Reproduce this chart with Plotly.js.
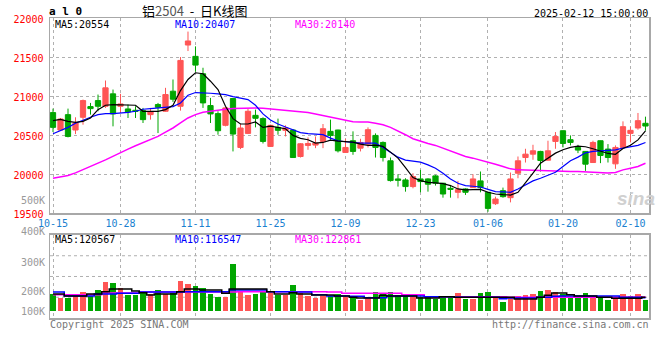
<!DOCTYPE html>
<html><head><meta charset="utf-8">
<script src="https://cdn.plot.ly/plotly-3.0.1.min.js"></script>
<style>html,body{margin:0;padding:0;background:#fff}#chart{width:660px;height:360px}</style>
</head><body><div id="chart"></div>
<script>
const dates = ['10-15','10-16','10-17','10-18','10-21','10-22','10-23','10-24','10-25','10-28','10-29','10-30','10-31',
 '11-01','11-04','11-05','11-06','11-07','11-08','11-11','11-12','11-13','11-14','11-15','11-18','11-19','11-20','11-21','11-22','11-25','11-26','11-27','11-28','11-29',
 '12-02','12-03','12-04','12-05','12-06','12-09','12-10','12-11','12-12','12-13','12-16','12-17','12-18','12-19','12-20','12-23','12-24','12-25','12-26','12-27','12-30','12-31',
 '01-02','01-03','01-06','01-07','01-08','01-09','01-10','01-13','01-14','01-15','01-16','01-17','01-20','01-21','01-22','01-23','01-24','01-27',
 '02-05','02-06','02-07','02-10','02-11','02-12'];
const open  = [20789,20566,20763,20566,20729,20866,20943,20870,21029,20870,20836,20819,20814,20763,20892,20806,21063,20870,21654,21509,
               21286,20879,20776,20626,20969,20343,20523,20754,20712,20356,20600,20562,20566,20227,20369,20373,20420,20549,20566,20279,
               20429,20334,20386,20497,20407,20172,19940,19927,19842,19940,19940,19979,19885,19820,19769,19812,19829,19915,19769,19623,
               19790,19700,20013,20214,20257,20292,20180,20420,20557,20442,20343,20292,20150,20429,20322,20133,20343,20523,20592,20652];
const high  = [20840,20720,20840,20729,20956,20913,21020,21200,21084,21029,20892,20870,20849,20849,20913,21106,21213,21500,21826,21637,
               21363,20977,20806,20855,20975,20643,20840,20827,20729,20634,20712,20626,20579,20399,20472,20484,20643,20699,20570,20454,
               20549,20454,20600,20523,20420,20214,20000,19949,20013,20056,19949,19992,19890,19863,19915,19820,20000,20035,19775,19713,
               19829,20022,20227,20326,20377,20300,20429,20540,20560,20497,20377,20296,20429,20432,20386,20369,20677,20609,20784,20737];
const low   = [20540,20555,20472,20514,20634,20763,20806,20849,20613,20784,20720,20720,20656,20699,20527,20800,20926,20814,21577,21311,
               20849,20656,20506,20613,20292,20322,20514,20600,20394,20350,20506,20484,20210,20214,20313,20334,20334,20442,20279,20275,
               20249,20292,20343,20214,20163,19906,19842,19777,19820,19769,19777,19855,19700,19700,19692,19735,19825,19769,19520,19606,
               19700,19640,19949,20150,20185,20035,20175,20326,20343,20369,20270,20043,20145,20142,20150,20069,20340,20407,20570,20557];
const close = [20600,20707,20484,20656,20943,20840,20870,21106,20772,20900,20797,20806,20699,20797,20857,21020,20960,21457,21706,21397,
               20913,20772,20557,20849,20514,20592,20806,20716,20420,20626,20562,20592,20214,20390,20394,20399,20583,20497,20300,20343,
               20292,20407,20570,20343,20214,19919,19923,19842,19970,19906,19872,19885,19747,19807,19803,19769,19940,19829,19563,19683,
               19713,19940,20172,20257,20300,20176,20300,20484,20394,20407,20309,20129,20407,20240,20214,20343,20609,20562,20686,20617];
const ma5   = [20686,20703,20677,20664,20677,20720,20827,20883,20892,20887,20883,20883,20806,20806,20806,20827,20883,21071,21213,21299,
               21286,21191,21084,20870,20712,20643,20643,20669,20600,20617,20600,20583,20497,20459,20442,20399,20407,20437,20424,20416,
               20412,20386,20369,20373,20356,20283,20206,20086,19957,19919,19897,19889,19880,19855,19812,19799,19803,19807,19769,19747,
               19739,19734,19769,19885,20013,20142,20206,20270,20313,20343,20360,20352,20326,20300,20266,20255,20330,20370,20440,20554];
const ma10  = [20519,20557,20600,20652,20694,20729,20763,20776,20776,20780,20793,20806,20832,20840,20849,20853,20866,20913,21011,21046,
               21046,21037,21029,21020,20994,20977,20956,20883,20772,20694,20643,20604,20566,20532,20519,20514,20506,20463,20429,20416,
               20403,20399,20399,20399,20343,20279,20219,20180,20167,20154,20120,20077,20013,19940,19885,19855,19846,19837,19807,19777,
               19773,19769,19812,19863,19915,19949,19983,20026,20099,20172,20219,20274,20292,20296,20300,20313,20334,20352,20369,20407];
const ma30  = [19949,19966,19983,20017,20056,20099,20142,20184,20232,20274,20322,20364,20407,20446,20484,20540,20592,20656,20720,20763,
               20793,20806,20823,20832,20840,20844,20849,20849,20844,20836,20827,20814,20806,20797,20789,20772,20754,20733,20712,20694,
               20673,20669,20669,20652,20634,20600,20557,20506,20454,20420,20394,20369,20334,20300,20257,20227,20206,20180,20163,20129,
               20099,20069,20056,20052,20052,20047,20039,20035,20035,20035,20035,20030,20026,20017,20017,20022,20056,20077,20099,20140];
const volume = [150200,114300,113800,132100,168400,131900,186300,258100,249200,204300,141200,140800,162300,150100,186200,149800,162400,267300,240100,222400,
                204200,150300,126100,125800,423200,171300,141100,150200,171200,162100,140900,141300,231200,156100,132200,114100,131800,129300,150200,120100,
                132300,96200,120300,168100,150300,168200,138100,132100,120200,126300,132200,108100,120300,131900,159200,108300,107900,159100,171200,126200,
                81300,126100,132200,141100,150200,177300,186100,171100,150300,117200,126100,159300,132100,117300,96100,126200,150100,132300,150200,96300];
const volMa5  = [150000,150000,132000,132000,132000,150000,150000,171000,195000,195000,195000,177000,162000,141000,150000,150000,150000,171000,195000,195000,
                 186000,186000,186000,156000,195000,195000,195000,195000,195000,171000,150000,150000,162000,150000,150000,141000,141000,141000,132000,132000,
                 120000,114000,114000,114000,138000,132000,132000,132000,132000,114000,114000,114000,126000,126000,120000,120000,120000,120000,120000,120000,
                 120000,120000,105000,105000,105000,120000,138000,159000,159000,144000,132000,132000,132000,120000,120000,111000,111000,111000,111000,120567];
const volMa10 = [168000,168000,132000,132000,132000,132000,150000,150000,150000,156000,156000,156000,168000,168000,168000,168000,168000,168000,171000,171000,
                 171000,171000,171000,171000,186000,186000,186000,186000,186000,171000,171000,171000,168000,168000,168000,144000,144000,132000,132000,132000,
                 129000,129000,117000,117000,117000,132000,132000,132000,132000,132000,126000,126000,126000,126000,120000,120000,120000,120000,120000,120000,
                 108000,114000,114000,114000,114000,120000,120000,129000,132000,132000,132000,132000,132000,132000,132000,132000,120000,120000,120000,116547];
const volMa30 = [144000,144000,144000,144000,144000,144000,144000,159000,159000,159000,159000,159000,168000,168000,168000,168000,168000,168000,168000,168000,
                 168000,168000,168000,168000,168000,171000,171000,171000,171000,171000,171000,171000,171000,171000,171000,171000,171000,168000,168000,156000,
                 156000,156000,156000,156000,156000,156000,156000,144000,144000,144000,126000,126000,126000,126000,126000,126000,126000,126000,126000,126000,
                 126000,120000,120000,120000,120000,120000,120000,120000,120000,120000,120000,120000,120000,120000,120000,120000,120000,120000,120000,122861];
const tickDates = ['10-15','10-28','11-11','11-25','12-09','12-23','01-06','01-20','02-10'];
const priceTicks = [19500,20000,20500,21000,21500,22000];
const volTickText = ['500K','400K','300K','200K','100K'];
const volTickPix  = [200,231,262,291,311];

const RED = '#ff5555', GREEN = '#00a600';
const volColors = close.map((c, i) => c >= open[i] ? RED : GREEN);
const MONO = 'DejaVu Sans Mono';
const px = x => (x - 50) / 599;
const py = y => (318 - y) / 300;

const traces = [
  {type:'candlestick', x:dates, open:open, high:high, low:low, close:close, xaxis:'x', yaxis:'y',
   increasing:{line:{color:RED, width:1}, fillcolor:RED},
   decreasing:{line:{color:GREEN, width:1}, fillcolor:GREEN},
   whiskerwidth:0, hoverinfo:'skip'},
  {type:'scatter', mode:'lines', x:dates, y:ma30, line:{color:'#ff00ff', width:1.5}, xaxis:'x', yaxis:'y', hoverinfo:'skip'},
  {type:'scatter', mode:'lines', x:dates, y:ma10, line:{color:'#0000ff', width:1.2}, xaxis:'x', yaxis:'y', hoverinfo:'skip'},
  {type:'scatter', mode:'lines', x:dates, y:ma5, line:{color:'#000000', width:1.2}, xaxis:'x', yaxis:'y', hoverinfo:'skip'},
  {type:'bar', x:dates, y:volume, width:0.76, marker:{color:volColors, line:{width:0}}, xaxis:'x2', yaxis:'y2', hoverinfo:'skip'},
  {type:'scatter', mode:'lines', x:dates, y:volMa30, line:{color:'#ff00ff', width:1.5, shape:'hvh'}, xaxis:'x2', yaxis:'y2', hoverinfo:'skip'},
  {type:'scatter', mode:'lines', x:dates, y:volMa10, line:{color:'#0000ff', width:1.5, shape:'hvh'}, xaxis:'x2', yaxis:'y2', hoverinfo:'skip'},
  {type:'scatter', mode:'lines', x:dates, y:volMa5, line:{color:'#000000', width:1.5, shape:'hvh'}, xaxis:'x2', yaxis:'y2', hoverinfo:'skip'}
];

const gridStyle = {showgrid:true, gridcolor:'#b0b0b0', griddash:'dot', gridwidth:1};
const border = {showline:true, mirror:true, linecolor:'#a8a8a8', linewidth:1.5, zeroline:false, ticks:''};

const ann = [];
function txt(text, x, y, xanchor, color, size, extra) {
  ann.push(Object.assign({text:text, x:px(x), y:py(y), xref:'paper', yref:'paper', xanchor:xanchor, yanchor:'middle',
    showarrow:false, font:{family:MONO, size:size||10, color:color}}, extra||{}));
}
txt('a l 0', 47, 12, 'left', '#000', 11, {font:{family:MONO, size:11, color:'#000', weight:'bold'}});
txt('铝<span style="color:#555">2504</span>&nbsp;&nbsp;-&nbsp;&nbsp;日K线图', 140, 11, 'left', '#000', 13, {font:{family:'Noto Sans CJK SC', size:13, color:'#000'}});
txt('2025-02-12 15:00:00', 650, 13, 'right', '#000', 10);
txt('MA5:20554', 53, 24.5, 'left', '#000', 10);
txt('MA10:20407', 173, 24.5, 'left', '#0000ff', 10);
txt('MA30:20140', 293, 24.5, 'left', '#ff00ff', 10);
txt('MA5:120567', 53, 239, 'left', '#000', 10);
txt('MA10:116547', 173, 239, 'left', '#0000ff', 10);
txt('MA30:122861', 293, 239, 'left', '#ff00ff', 10);
volTickText.forEach((t, i) => txt(t, 47, volTickPix[i], 'right', '#999999', 10));
txt('Copyright 2025 SINA.COM', 48, 324, 'left', '#777777', 10);
txt('http://finance.sina.com.cn', 651, 324, 'right', '#777777', 10);
ann.push({text:'sina', x:px(636), y:py(199), xref:'paper', yref:'paper', xanchor:'center', yanchor:'middle', showarrow:false,
  font:{family:'Liberation Sans', size:19, color:'#d0d0d0', style:'italic', weight:'bold'}});

const shapes = [0.25, 0.5, 0.75].map(f => ({type:'line', xref:'x2 domain', yref:'y2 domain', x0:0, x1:1, y0:f, y1:f,
  line:{color:'#b0b0b0', width:1, dash:'dot'}, layer:'below'}));

const layout = {
  width:660, height:360, margin:{l:50, r:11, t:18, b:42, pad:0},
  paper_bgcolor:'#ffffff', plot_bgcolor:'#ffffff', showlegend:false,
  boxgap:0.3, boxgroupgap:0, bargap:0,
  font:{family:MONO, size:10, color:'#000'},
  xaxis:Object.assign({type:'category', anchor:'y', domain:[0,1], range:[-0.4,79.47], tickmode:'array', tickvals:tickDates, ticktext:tickDates,
    tickfont:{family:MONO, size:10, color:'#1a7fd0'}, rangeslider:{visible:false}, fixedrange:true}, gridStyle, border),
  yaxis:Object.assign({anchor:'x', domain:[0.349,1], range:[19500,22000], tickmode:'array', tickvals:priceTicks, tickformat:'d',
    tickfont:{family:MONO, size:10, color:'#ff0000'}, ticklabelshift:1, ticklabelstandoff:3, fixedrange:true}, gridStyle, border),
  xaxis2:Object.assign({type:'category', anchor:'y2', domain:[0,1], range:[-0.4,79.47], tickmode:'array', tickvals:tickDates,
    showticklabels:false, fixedrange:true}, gridStyle, border),
  yaxis2:Object.assign({anchor:'x2', domain:[0,0.2767], range:[-66000,681000], showticklabels:false, showgrid:false, fixedrange:true}, border),
  annotations:ann, shapes:shapes
};

Plotly.newPlot('chart', traces, layout, {staticPlot:true, displayModeBar:false});
</script>
</body></html>
